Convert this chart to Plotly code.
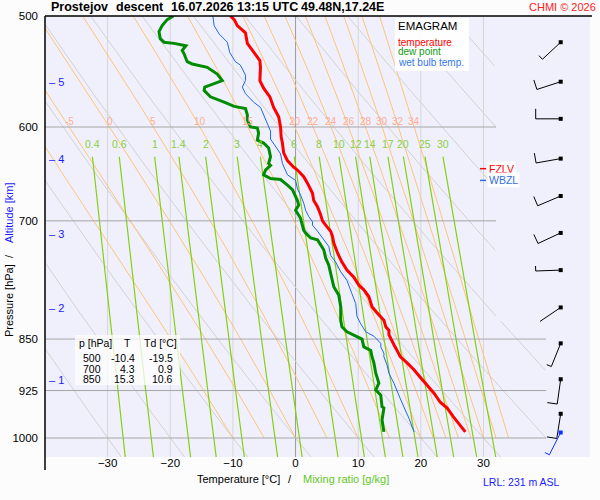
import numpy as np
import plotly.graph_objects as go

# ---- sounding (hPa, degC) ----
temp_p = [500, 503, 508, 514, 523, 531, 538, 544, 556, 563, 571, 581, 590, 600, 610, 616, 626, 634, 641, 644,
          651, 658, 669, 677, 684, 693, 700, 705, 712, 718, 726, 738, 749, 759, 768, 778, 784, 793, 806, 814,
          824, 833, 838, 844, 850, 858, 866, 875, 884, 894, 905, 917, 929, 943, 952, 966, 979, 990]
temp_t = [-10.4, -9.8, -9.3, -8.0, -7.7, -6.7, -5.7, -5.6, -5.7, -5.1, -4.1, -3.5, -2.7, -2.4, -2.3, -2.1, -1.9, -1.3, -0.3, 0.3,
          1.3, 1.9, 2.7, 2.9, 3.5, 4.0, 4.3, 4.8, 5.6, 5.9, 6.1, 6.7, 7.4, 8.2, 9.3, 10.1, 10.9, 11.7, 12.2, 13.0,
          14.1, 14.4, 14.9, 14.9, 15.3, 15.7, 16.2, 16.7, 17.8, 18.9, 19.9, 21.0, 22.1, 23.1, 24.2, 25.2, 26.3, 27.1]

dew_p = [500, 503, 508, 513, 519, 522, 523, 525, 529, 532, 539, 541, 544, 550, 556, 559, 562, 565, 571, 576,
         580, 582, 588, 593, 600, 601, 606, 613, 616, 621, 630, 637, 639, 644, 649, 653, 654, 660, 665, 677,
         682, 688, 693, 697, 700, 711, 714, 720, 722, 728, 734, 744, 753, 763, 780, 791, 806, 824, 833, 840,
         846, 850, 861, 866, 875, 884, 899, 914, 924, 932, 950, 952, 971, 990]
dew_t = [-19.5, -20.5, -21.3, -21.8, -21.6, -21.0, -19.4, -17.5, -18.1, -17.8, -17.3, -16.5, -14.1, -12.5, -11.7, -13.0, -14.5, -14.6, -13.6, -11.4,
         -9.8, -8.0, -7.7, -7.7, -7.2, -6.1, -5.9, -6.1, -5.1, -4.3, -4.0, -4.3, -4.0, -4.8, -5.1, -4.0, -2.4, -1.3, -0.5, 0.3,
         0.5, 0.0, 0.5, 0.8, 0.9, 1.3, 1.6, 2.4, 3.5, 4.0, 4.5, 4.8, 5.3, 5.6, 6.1, 6.9, 7.2, 7.2, 7.4, 8.2,
         9.8, 10.6, 10.9, 12.0, 12.2, 12.5, 12.8, 13.3, 12.8, 13.6, 13.8, 14.1, 13.8, 14.1]

wb_p = [500, 508, 515, 522, 531, 539, 542, 551, 556, 562, 568, 576, 581, 588, 595, 604, 612, 620, 627, 637,
        644, 649, 655, 664, 671, 680, 688, 695, 701, 705, 712, 722, 730, 741, 749, 761, 772, 789, 802, 819,
        829, 840, 846, 856, 861, 870, 875, 887, 899, 914, 927, 937, 955, 968, 982, 990]
wb_t = [-13.2, -13.0, -12.2, -10.9, -10.5, -9.6, -8.8, -8.0, -8.0, -8.5, -8.0, -6.7, -5.6, -5.1, -4.5, -4.0, -4.0, -3.2, -2.4, -2.1,
        -1.6, -1.3, 0.0, 0.3, 0.8, 1.3, 1.6, 2.1, 2.7, 2.7, 3.5, 4.5, 5.3, 5.6, 6.4, 7.2, 8.2, 9.0, 9.6, 9.8,
        10.4, 11.2, 12.5, 13.6, 13.6, 14.1, 14.1, 14.6, 14.9, 15.7, 16.2, 16.7, 17.5, 18.1, 18.6, 18.9]

# wind barbs (hPa, deg, kt)
wind_p = [522, 557, 592, 632, 672, 714, 759, 807, 856, 908, 961]
wind_dir = [227, 252, 270, 260, 247, 245, 268, 236, 202, 188, 189]
wind_kt = [5, 10, 10, 10, 10, 10, 5, 2, 5, 10, 10]
sfc_p, sfc_dir, sfc_kt = 991, 207, 5

# table
tab_p = ["500", "700", "850"]
tab_t = ["-10.4", "4.3", "15.3"]
tab_td = ["-19.5", "0.9", "10.6"]

# diagram lines
p_ticks = [500, 600, 700, 850, 925, 1000]
t_ticks = [-30, -20, -10, 0, 10, 20, 30]
isobars = [600, 700, 850, 925, 1000]
theta_dry = list(range(-30, 101, 10))
theta_w = [-10, -5, 0, 5, 10, 15, 20, 22, 24, 26, 28, 30, 32, 34]
theta_w_lab = [-5, 0, 5, 10, 15, 20, 22, 24, 26, 28, 30, 32, 34]
mix_ratio = [0.4, 0.6, 1, 1.4, 2, 3, 4, 6, 8, 10, 12, 14, 17, 20, 25, 30]
alt_km = [1, 2, 3, 4, 5]
alt_p = [909, 808, 715, 632, 557]

W, H = 600, 500
ML, MR, MT, MB = 45, 10, 16, 43
PW, PH = W - ML - MR, H - MT - MB
TMIN, TMAX = -40, 47
PTOP, PBOT = 500, 1031.7
kx = PW / (TMAX - TMIN)
ky = PH / (np.log10(PBOT) - np.log10(PTOP))

FONT = "Liberation Sans, Arial, sans-serif"


def xp(px):
    return (px - ML) / PW


def yp(py):
    return (H - MB - py) / PH


def t_right(p):
    return 32 if p < 825 else 40


def es(tc):
    return 6.112 * np.exp(17.67 * tc / (tc + 243.5))


def moist(tw):
    # pseudo adiabat from 1000 hPa up to 500 hPa
    Rd, cp, Lv, eps = 287.04, 1005.7, 2.501e6, 0.622

    def dtdp(p, tk):
        e = es(tk - 273.15)
        rs = eps * e / (p - e)
        return (Rd * tk + Lv * rs) / (cp + Lv * Lv * rs * eps / (Rd * tk * tk)) / p

    ps = np.arange(1000, 499, -2.0)
    ts = [tw + 273.15]
    for i in range(len(ps) - 1):
        h = ps[i + 1] - ps[i]
        p, t = ps[i], ts[-1]
        k1 = dtdp(p, t)
        k2 = dtdp(p + h / 2, t + h / 2 * k1)
        k3 = dtdp(p + h / 2, t + h / 2 * k2)
        k4 = dtdp(p + h, t + h * k3)
        ts.append(t + h / 6 * (k1 + 2 * k2 + 2 * k3 + k4))
    return ps, np.array(ts) - 273.15


def mix_t(w, p):
    e = w * p / (622 + w)
    a = np.log(e / 6.112)
    return 243.5 * a / (17.67 - a)


def clip_right(ps, ts):
    ts = np.array(ts, dtype=float)
    lim = np.array([t_right(p) for p in ps])
    ts[ts > lim] = np.nan
    return ts


def level(ps, ts, val=0.0):
    # first crossing from the ground upwards
    for i in range(len(ps) - 1, 0, -1):
        a, b = ts[i] - val, ts[i - 1] - val
        if a * b <= 0 and a != b:
            f = a / (a - b)
            return ps[i] + f * (ps[i - 1] - ps[i])
    return None


fig = go.Figure()


def line(x, y, color, width=1):
    fig.add_trace(go.Scatter(x=x, y=y, mode="lines", line=dict(color=color, width=width),
                             hoverinfo="skip", showlegend=False))


for t in t_ticks:
    line([t, t], [PTOP, PBOT], "#999999" if t == 0 else "#d6d6d6")

pp = np.linspace(PTOP, PBOT, 300)
for th in theta_dry:
    tt = (th + 273.15) * (pp / 1000.0) ** 0.286 - 273.15
    line(clip_right(pp, tt), pp, "#d2d2d2")

moist_at600 = {}
for tw in theta_w:
    ps, ts = moist(tw)
    moist_at600[tw] = float(np.interp(600, ps[::-1], ts[::-1]))
    line(clip_right(ps, ts), ps, "#ffc47a")

pm = np.linspace(630, PBOT, 60)
for w in mix_ratio:
    line(mix_t(w, pm), pm, "#84d010", 1.2)

for p in isobars:
    line([TMIN, t_right(p)], [p, p], "#a6a6a6")

line(wb_t, wb_p, "#1f66ee", 1)
line(dew_t, dew_p, "#008c00", 3)
line(temp_t, temp_p, "#ff0000", 3)

# wind barbs
T0 = TMIN + (560.7 - ML) / kx


def barb(p0, wdir, kt, color):
    th = np.radians(wdir)
    ux, uy = np.sin(th), -np.cos(th)
    pts = [(0.0, 0.0), (25 * ux, 25 * uy)]
    tick = 10 if kt >= 10 else (5 if kt >= 5 else 0)
    if tick:
        ex, ey = pts[1]
        pts.append((ex - uy * tick, ey + ux * tick))
    xs = [T0 + dx / kx for dx, dy in pts]
    ys = [p0 * 10 ** (dy / ky) for dx, dy in pts]
    line(xs, ys, color, 1)
    fig.add_trace(go.Scatter(x=[T0], y=[p0], mode="markers",
                             marker=dict(symbol="square", size=4, color=color),
                             hoverinfo="skip", showlegend=False))


for p, d, s in zip(wind_p, wind_dir, wind_kt):
    barb(p, d, s, "black")
barb(sfc_p, sfc_dir, sfc_kt, "#1030ff")

# FZLV / WBZL
fzlv = level(temp_p, temp_t)
wbzl = level(wb_p, wb_t)
ann = []
shapes = []
for lev, name, col in [(fzlv, "FZLV", "#ff0000"), (wbzl, "WBZL", "#3070e0")]:
    line([TMIN + (480 - ML) / kx, TMIN + (486 - ML) / kx], [lev, lev], col, 1.5)
    ann.append(dict(x=xp(487), xref="paper", y=np.log10(lev), yref="y", text=name,
                    xanchor="left", yanchor="middle", showarrow=False, bgcolor="rgba(255,255,255,0.85)",
                    borderpad=1, font=dict(family=FONT, size=10.5, color=col)))

# moist adiabat labels on 600 hPa
for tw in theta_w_lab:
    ann.append(dict(x=moist_at600[tw], y=np.log10(600), yshift=6, text=str(tw), showarrow=False,
                    xanchor="center", yanchor="middle", font=dict(family=FONT, size=10, color="#ffab94")))

# mixing ratio labels
for w in mix_ratio:
    ann.append(dict(x=float(mix_t(w, 630)), y=np.log10(617), text=("%g" % w), showarrow=False,
                    xanchor="center", yanchor="middle", font=dict(family=FONT, size=10.5, color="#8ccf3c")))

# altitude ticks
for km, p in zip(alt_km, alt_p):
    ann.append(dict(x=xp(47), xref="paper", y=np.log10(p), yref="y", text="\u2013 %d" % km,
                    showarrow=False, xanchor="left", yanchor="middle",
                    font=dict(family=FONT, size=11, color="#1a1aff")))


def txt(px, py, s, size=11, color="black", anchor="left", bold=False, angle=0):
    if bold:
        s = "<b>" + s + "</b>"
    ann.append(dict(x=xp(px), y=yp(py), xref="paper", yref="paper", text=s, showarrow=False,
                    xanchor=anchor, yanchor="middle", textangle=angle, borderpad=0,
                    font=dict(family=FONT, size=size, color=color)))


# title
txt(50, 7, "Prostejov", 12.5, bold=True)
txt(115, 7, "descent", 12.5, bold=True)
txt(170, 7, "16.07.2026 13:15 UTC", 12.5, bold=True)
txt(300, 7, "49.48N,17.24E", 12.5, bold=True)
txt(597, 7, "CHMI \u00a9 2026", 11, "#ff2020", "right")

# legend box
shapes.append(dict(type="rect", xref="paper", yref="paper", x0=xp(395), x1=xp(469), y0=yp(71), y1=yp(18),
                   fillcolor="rgba(255,255,255,0.9)", line=dict(width=0), layer="above"))
txt(397, 26, "EMAGRAM", 11.5)
txt(397, 42, "temperature", 10, "#ff0000")
txt(397, 52, "dew point", 10, "#139a13")
txt(397, 62, "wet bulb temp.", 10, "#3377ee")

# table box
shapes.append(dict(type="rect", xref="paper", yref="paper", x0=xp(75), x1=xp(180), y0=yp(385), y1=yp(335),
                   fillcolor="rgba(255,255,255,0.75)", line=dict(width=0), layer="above"))
txt(78, 343, "p [hPa]", 10.5)
txt(127, 343, "T", 10.5, anchor="center")
txt(143, 343, "Td [\u00b0C]", 10.5)
for i in range(3):
    yy = 358 + i * 10.5
    txt(102, yy, tab_p[i], 10.5, anchor="right")
    txt(136, yy, tab_t[i], 10.5, anchor="right")
    txt(174, yy, tab_td[i], 10.5, anchor="right")

# axis titles
txt(281, 479, "Temperature [\u00b0C]", 11, anchor="right")
txt(290, 479, "/", 11, anchor="center")
txt(302, 479, "Mixing ratio [g/kg]", 11, "#5fc81e")
txt(9, 301, "Pressure [hPa]", 11, anchor="center", angle=-90)
txt(9, 256, "/", 11, anchor="center", angle=-90)
txt(9, 213, "Altitude [km]", 11, "#1a1aff", anchor="center", angle=-90)
txt(482, 482, "LRL: 231 m ASL", 10.5, "#1a1aff")

# frame lines
shapes.append(dict(type="line", xref="paper", yref="paper", x0=0, x1=0, y0=yp(470), y1=1,
                   line=dict(color="black", width=1.5)))
shapes.append(dict(type="line", xref="paper", yref="paper", x0=0, x1=xp(592), y0=1, y1=1,
                   line=dict(color="black", width=1.5)))

fig.update_layout(
    width=W, height=H,
    margin=dict(l=ML, r=MR, t=MT, b=MB),
    paper_bgcolor="#fcfcfc",
    plot_bgcolor="#f0f0fc",
    font=dict(family=FONT, size=11, color="black"),
    annotations=ann,
    shapes=shapes,
    xaxis=dict(range=[TMIN, TMAX], tickvals=t_ticks, ticks="", showgrid=False, zeroline=False,
               showline=False, automargin=False, tickfont=dict(size=11.5), ticklabelstandoff=-3),
    yaxis=dict(type="log", range=[np.log10(PBOT), np.log10(PTOP)], tickvals=p_ticks,
               ticktext=[str(p) for p in p_ticks], ticks="", showgrid=False, zeroline=False,
               showline=False, automargin=False, tickfont=dict(size=11.5), ticklabelstandoff=6),
)

# page margin off so the 600x500 figure fills the window
fig.write_html("out.html", config={"displayModeBar": False},
               post_script="document.body.style.margin='0px';")
